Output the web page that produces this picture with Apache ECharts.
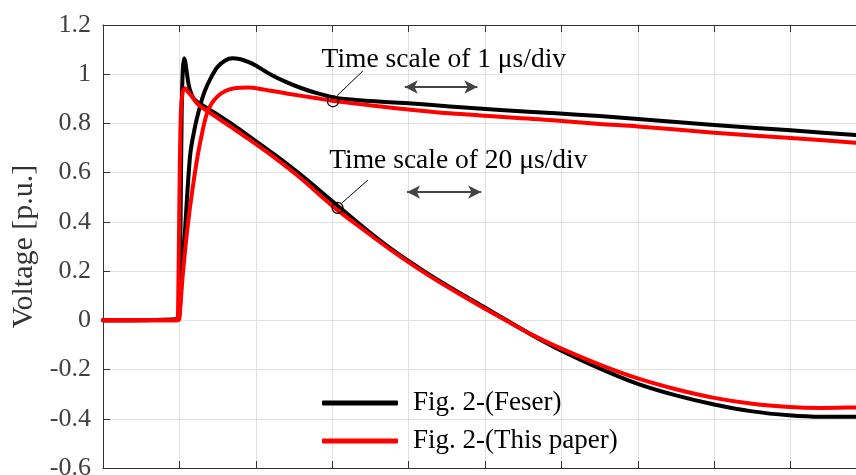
<!DOCTYPE html>
<html>
<head>
<meta charset="utf-8">
<script src="https://cdn.jsdelivr.net/npm/echarts@6/dist/echarts.min.js"></script>
<style>
html,body{margin:0;padding:0;background:#fff;}
#c{width:856px;height:475px;}
</style>
</head>
<body>
<div id="c"></div>
<script>
// ---- data (x in divisions, y in p.u.) ----
const legendNames = ['Fig. 2-(Feser)', 'Fig. 2-(This paper)'];
const yTickLabels = ['-0.6','-0.4','-0.2','0','0.2','0.4','0.6','0.8','1','1.2'];

// 1 µs/div traces
const feser1us = [[0,0],[0.95,0.003],[0.985,0.01],[1.0,0.02],[1.03,0.17],[1.07,0.35],[1.14,0.67],[1.2,0.78],[1.27,0.87],[1.33,0.93],[1.42,0.99],[1.5,1.03],[1.6,1.056],[1.69,1.065],[1.8,1.061],[1.9,1.05],[2.0,1.035],[2.2,0.998],[2.4,0.968],[2.6,0.943],[2.8,0.923],[3.0,0.907],[3.2,0.898],[3.5,0.891],[4.0,0.882],[4.54,0.869],[5.2,0.855],[5.93,0.841],[6.5,0.83],[7.0,0.818],[8.0,0.794],[9.0,0.772],[9.85,0.753],[10,0.75]];
const paper1us = [[0,0],[0.98,0],[1.0,0.01],[1.04,0.17],[1.1,0.36],[1.17,0.53],[1.24,0.67],[1.31,0.78],[1.36,0.84],[1.42,0.88],[1.5,0.91],[1.6,0.932],[1.72,0.943],[1.9,0.946],[2.1,0.938],[2.4,0.922],[2.8,0.902],[3.0,0.892],[3.66,0.868],[4.54,0.841],[5.93,0.812],[6.5,0.798],[7.0,0.788],[8.0,0.762],[9.0,0.741],[9.85,0.722],[10,0.719]];

// 20 µs/div traces
const feser20us = [[0,0],[0.95,0.003],[0.98,0.01],[1.0,0.05],[1.015,0.4],[1.03,0.85],[1.045,1.02],[1.063,1.065],[1.08,1.045],[1.1,1.0],[1.12,0.96],[1.14,0.935],[1.17,0.91],[1.204,0.896],[1.25,0.884],[1.291,0.876],[1.465,0.843],[1.684,0.798],[1.9,0.751],[2.25,0.672],[2.577,0.594],[3.009,0.482],[3.4,0.38],[3.794,0.285],[4.2,0.2],[4.54,0.135],[4.971,0.057],[5.3,-0.003],[5.625,-0.062],[5.926,-0.112],[6.5,-0.195],[7.0,-0.258],[7.5,-0.305],[8.0,-0.342],[8.5,-0.37],[8.98,-0.386],[9.4,-0.392],[9.85,-0.392],[10,-0.391]];
const paper20us = [[0,0],[0.97,0],[0.985,0.1],[1.0,0.5],[1.02,0.85],[1.045,0.93],[1.073,0.943],[1.1,0.933],[1.16,0.912],[1.243,0.878],[1.465,0.83],[1.684,0.784],[1.9,0.738],[2.25,0.66],[2.577,0.58],[3.009,0.463],[3.4,0.37],[3.794,0.28],[4.2,0.195],[4.54,0.13],[4.971,0.052],[5.3,-0.005],[5.625,-0.06],[5.926,-0.105],[6.5,-0.18],[7.0,-0.236],[7.5,-0.28],[8.0,-0.315],[8.5,-0.339],[8.98,-0.352],[9.4,-0.356],[9.85,-0.354],[10,-0.353]];

// annotations (data coordinates)
const noteTexts = ['Time scale of 1 \u03bcs/div', 'Time scale of 20 \u03bcs/div'];
const noteAnchors = [[4.461,1.058],[4.651,0.648]];
const circleAnchors = [[3.01,0.89],[3.07,0.457]];
const leaderLines = [[[3.061,0.912],[3.401,1.013]],[[3.127,0.477],[3.467,0.570]]];
const arrowLines = [[[3.95,0.948],[4.9,0.948]],[[3.98,0.521],[4.95,0.521]]];

const serif = '"Liberation Serif", "Times New Roman", serif';
const chart = echarts.init(document.getElementById('c'), null, {renderer:'canvas'});

const markPointData = [];
circleAnchors.forEach(c => markPointData.push({
  coord:c, symbol:'circle', symbolSize:11,
  itemStyle:{color:'rgba(0,0,0,0)', borderColor:'#000', borderWidth:1.2},
  label:{show:false}
}));
noteAnchors.forEach((c,i) => markPointData.push({
  coord:c, symbol:'rect', symbolSize:1,
  itemStyle:{color:'rgba(0,0,0,0)'},
  label:{show:true, position:'inside', formatter:noteTexts[i], color:'#000', fontFamily:serif, fontSize:27.5}
}));
const markLineData = [];
leaderLines.forEach(l => markLineData.push([
  {coord:l[0], symbol:'none', lineStyle:{color:'#000', width:1, type:'solid'}},
  {coord:l[1], symbol:'none'}
]));
arrowLines.forEach(l => markLineData.push([
  {coord:l[0], symbol:'arrow', symbolSize:[10,13], lineStyle:{color:'#444', width:2, type:'solid'}},
  {coord:l[1], symbol:'arrow', symbolSize:[10,13]}
]));

function lineSeries(name, data, color, extra) {
  return Object.assign({
    name, type:'line', data, showSymbol:false, symbol:'none',
    smooth:0.3,
    lineStyle:{color, width:4, cap:'round', join:'round'},
    itemStyle:{color},
    silent:true, animation:false, clip:true
  }, extra||{});
}

chart.setOption({
  backgroundColor:'#fff',
  animation:false,
  grid:{left:103, right:-11, top:25, bottom:7, containLabel:false, outerBoundsMode:'none'},
  legend:{
    data:legendNames, orient:'vertical', left:322, top:388, padding:0,
    icon:'roundRect', itemWidth:76, itemHeight:5, itemGap:8,
    textStyle:{fontFamily:serif, fontSize:27, color:'#000', lineHeight:30, padding:[0,0,0,10]},
    selectedMode:false
  },
  xAxis:[
    {type:'value', min:0, max:10, interval:1, position:'bottom',
     axisLine:{show:true, onZero:false, lineStyle:{color:'#333', width:1}},
     axisTick:{show:true, inside:true, length:7, lineStyle:{color:'#333'}},
     axisLabel:{show:false},
     splitLine:{show:true, lineStyle:{color:'#e0e0e0', width:1}}},
    {type:'value', min:0, max:10, interval:1, position:'top',
     axisLine:{show:true, onZero:false, lineStyle:{color:'#333', width:1}},
     axisTick:{show:true, inside:true, length:7, lineStyle:{color:'#333'}},
     axisLabel:{show:false}, splitLine:{show:false}}
  ],
  yAxis:{
    type:'value', min:-0.6, max:1.2, interval:0.2,
    name:'Voltage [p.u.]', nameLocation:'middle', nameGap:60, nameRotate:90,
    nameTextStyle:{fontFamily:serif, fontSize:30, color:'#333'},
    axisLine:{show:true, onZero:false, lineStyle:{color:'#333', width:1}},
    axisTick:{show:true, inside:true, length:7, lineStyle:{color:'#333'}},
    axisLabel:{fontFamily:serif, fontSize:26, color:'#404040', margin:12,
      formatter:v => yTickLabels[Math.round((v + 0.6) / 0.2)]},
    splitLine:{show:true, lineStyle:{color:'#e0e0e0', width:1}}
  },
  series:[
    lineSeries(legendNames[0], feser1us, '#000000', {
      markPoint:{silent:true, animation:false, data:markPointData},
      markLine:{silent:true, animation:false, symbol:['none','none'], label:{show:false},
        lineStyle:{type:'solid'}, emphasis:{disabled:true}, data:markLineData}
    }),
    lineSeries(legendNames[0], feser20us, '#000000'),
    lineSeries(legendNames[1], paper1us, '#ff0000'),
    lineSeries(legendNames[1], paper20us, '#ff0000')
  ]
});
</script>
</body>
</html>
